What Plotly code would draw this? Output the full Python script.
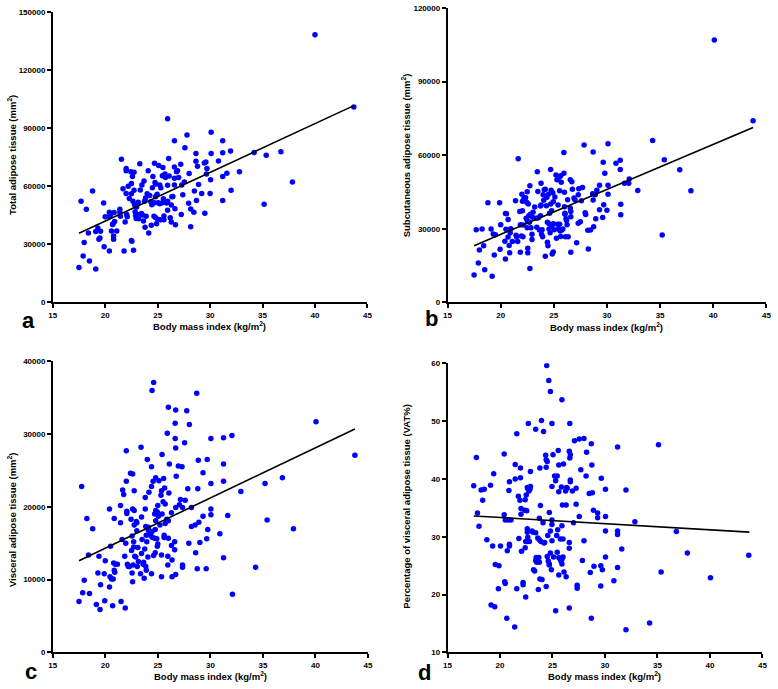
import plotly.graph_objects as go

# ---------------- data ----------------
bmi_a = [17.5,17.7,17.9,18.0,18.2,18.4,18.5,18.8,19.1,19.3,
         19.4,19.5,19.55,19.1,19.85,19.9,20.0,20.4,20.4,20.4,
         20.5,20.6,20.7,20.75,20.8,20.8,20.85,20.9,21.1,21.4,
         21.4,21.45,21.55,21.7,21.8,21.9,22.0,22.0,22.0,22.05,
         22.1,22.2,22.3,22.45,22.5,22.5,22.5,22.55,22.6,22.7,
         22.75,22.75,22.65,22.8,22.85,22.9,22.95,23.0,23.05,23.15,
         23.2,23.3,23.35,23.5,23.45,23.55,23.65,23.7,23.8,23.75,
         23.85,23.9,24.0,24.1,24.15,24.25,24.35,24.45,24.4,24.5,
         24.55,24.65,24.7,24.7,24.75,24.8,24.8,24.8,24.9,24.95,
         25.0,25.05,25.1,25.2,25.2,25.3,25.3,25.45,25.45,25.5,
         25.55,25.6,25.6,25.7,25.75,25.85,25.95,25.95,25.95,25.95,
         26.05,26.1,26.2,26.3,26.3,26.35,26.45,26.6,26.6,26.6,
         26.6,26.65,26.7,26.8,26.9,27.0,27.2,27.25,27.3,27.4,
         27.55,27.6,27.8,27.95,28.0,28.15,28.15,28.45,28.5,28.65,
         28.65,28.7,28.8,28.9,29.2,29.45,29.5,29.6,29.65,29.7,
         30.0,30.05,30.1,30.1,30.8,31.2,31.2,31.2,31.2,31.6,
         31.95,32.0,32.8,34.2,35.15,35.35,36.75,37.85,40.0,43.7]
tat = [18000,52200,24000,31000,48100,35900,21400,57500,36600,38400,
       32600,33300,36700,17200,51300,28700,44200,26500,46600,44400,
       45200,36900,40300,40600,34300,32600,46400,41800,36900,48100,
       46600,44500,74000,58700,26500,41500,69200,68000,56300,45400,
       44200,60000,53700,67500,56100,61400,32000,31600,65100,26900,
       67200,58000,52200,50500,46900,44900,43300,49300,45400,51700,
       43200,71700,58100,60700,45900,45200,42000,62700,38800,52200,
       53900,44500,56100,68000,35900,55300,52000,50500,39800,59300,
       65100,44500,71900,51500,61900,61200,54600,43900,40600,55900,
       43000,51500,70700,51000,60700,42700,59200,65500,51500,69700,
       53600,42700,44700,66300,64600,51300,94900,47600,52200,60500,
       74300,65300,43700,50300,41500,54600,54700,83600,70000,64100,
       60700,48400,40100,67500,68000,64600,71400,45400,60700,55600,
       62200,79900,86500,51200,66600,48300,39100,46600,57600,77000,
       72900,52700,70400,60900,56300,72100,46100,72600,66300,69200,
       56300,63400,87900,77000,73100,83600,77400,65100,52700,66800,
       78200,58000,67500,77500,50700,76000,77900,62200,138400,101000]

bmi_b = [17.5,17.7,17.9,18.0,18.25,18.4,18.5,18.8,19.1,19.2,
         19.3,19.4,19.5,19.9,19.95,20.0,20.4,20.45,20.45,20.5,
         20.55,20.7,20.7,20.8,20.8,20.85,20.9,20.95,21.1,21.4,
         21.45,21.5,21.6,21.65,21.8,21.85,21.85,21.95,22.0,22.05,
         22.05,22.1,22.1,22.2,22.35,22.45,22.4,22.5,22.5,22.5,
         22.55,22.55,22.6,22.65,22.7,22.75,22.75,22.8,22.85,22.95,
         22.95,23.0,23.05,23.2,23.35,23.4,23.45,23.5,23.55,23.65,
         23.75,23.75,23.8,23.8,23.85,23.9,23.95,24.0,24.05,24.1,
         24.2,24.2,24.3,24.35,24.4,24.4,24.45,24.5,24.55,24.55,
         24.6,24.65,24.7,24.7,24.75,24.8,24.8,24.85,24.9,24.95,
         24.95,24.95,25.05,25.1,25.2,25.25,25.3,25.35,25.4,25.45,
         25.5,25.55,25.55,25.6,25.65,25.65,25.7,25.75,25.85,25.95,
         25.95,26.0,26.0,26.05,26.05,26.1,26.15,26.2,26.25,26.3,
         26.35,26.55,26.55,26.6,26.6,26.6,26.7,26.75,26.9,27.0,
         27.15,27.3,27.3,27.35,27.5,27.6,27.7,27.85,27.95,28.0,
         28.2,28.25,28.45,28.65,28.7,28.7,28.75,28.9,28.95,29.05,
         29.3,29.3,29.6,29.65,29.7,29.8,30.0,30.1,30.1,30.1,
         30.85,31.25,31.25,31.3,31.3,31.65,32.05,32.1,32.9,34.3,
         35.2,35.4,36.85,37.9,40.1,43.75]
sat = [11100,29600,16000,21300,29900,23100,13300,40600,29900,10600,
       27900,19300,27600,40600,21600,31600,24900,36200,17700,29800,
       36100,33800,26600,29500,23200,20200,28400,30000,24800,41400,
       27400,26600,24800,58500,37000,20400,31600,27000,44100,41200,
       37300,26700,31500,42500,42600,40800,34300,33300,30400,45100,
       22100,20200,40100,35300,32600,47500,13800,35900,30400,25600,
       27800,34700,36700,38900,34300,30600,53200,45200,34500,29500,
       35300,39300,48500,39700,27800,29600,26700,43900,41600,45900,
       46100,18800,39400,42800,32700,24500,23100,44100,29900,32000,
       36300,28400,40100,54200,45700,37300,31000,19700,44700,41000,
       32000,20500,29600,42900,51900,26100,50000,31800,39700,29900,
       51000,45500,31800,29100,51600,26800,49000,29500,29900,61100,
       52600,44900,39000,36300,35900,26700,34100,33400,31600,41800,
       26700,50000,38500,37000,34900,20400,49200,46100,42500,41700,
       24300,43900,32200,46300,32900,41400,46800,64100,36500,35800,
       29400,21700,29500,44300,41700,61300,30800,43900,34100,45700,
       47700,37700,34600,57100,39800,52600,37500,64600,44100,47700,
       56700,54200,57900,40000,35700,48500,48500,50300,45600,66000,
       27500,58100,54000,45500,106900,74000]

bmi_c = [17.5,17.75,17.85,18.0,18.25,18.4,18.5,18.8,19.15,19.3,
         19.4,19.5,19.55,19.9,19.95,20.0,20.4,20.4,20.45,20.5,
         20.6,20.7,20.75,20.8,20.85,20.85,20.9,20.95,21.15,21.45,
         21.45,21.5,21.6,21.65,21.75,21.85,21.9,21.95,22.0,22.0,
         22.05,22.05,22.1,22.2,22.3,22.4,22.45,22.5,22.55,22.55,
         22.6,22.6,22.6,22.65,22.7,22.7,22.75,22.75,22.75,22.8,
         22.9,22.95,23.0,23.0,23.05,23.1,23.15,23.35,23.4,23.45,
         23.45,23.5,23.6,23.65,23.7,23.75,23.8,23.8,23.85,23.85,
         23.9,23.9,23.95,24.0,24.05,24.1,24.1,24.15,24.3,24.35,
         24.4,24.4,24.4,24.45,24.45,24.5,24.55,24.6,24.6,24.7,
         24.7,24.75,24.75,24.8,24.8,24.8,24.9,24.95,24.95,25.0,
         25.0,25.05,25.1,25.2,25.3,25.35,25.35,25.35,25.4,25.4,
         25.5,25.55,25.6,25.6,25.65,25.7,25.7,25.85,25.9,25.95,
         25.95,26.0,26.0,26.0,26.05,26.1,26.3,26.3,26.35,26.35,
         26.6,26.6,26.65,26.65,26.7,26.7,26.7,26.7,26.75,26.95,
         27.05,27.15,27.3,27.35,27.35,27.35,27.55,27.6,27.75,27.85,
         27.95,28.0,28.2,28.2,28.55,28.6,28.7,28.75,28.8,28.85,
         28.9,29.0,29.3,29.3,29.6,29.65,29.75,29.7,30.05,30.05,
         30.05,30.05,30.9,31.25,31.25,31.25,31.25,31.65,32.05,32.1,
         32.9,34.3,35.2,35.4,36.85,37.9,40.05,43.75]
vat = [7000,22800,8200,9900,18400,13400,8100,17000,6600,10900,
       13200,5900,9300,10800,7100,12600,19700,9000,10400,14600,
       10100,6400,10100,12300,11300,18400,11000,12100,12100,20200,
       17800,7000,15500,22300,21700,13200,6100,15000,27700,23500,
       19400,19100,12100,11800,11800,24600,18300,14000,16000,10900,
       24500,19700,9700,12000,15200,14500,22200,19500,17500,13200,
       13100,18000,16700,17800,11800,14400,12500,10800,28200,18600,
       13600,15500,12100,12400,10200,14200,21300,19700,17300,11800,
       11300,16100,15200,26500,13100,16800,17200,22000,16500,16000,
       25500,22800,10800,36000,16600,15800,23500,37100,13300,15700,
       19000,13700,16900,18100,19500,24000,15600,19300,14600,14900,
       20200,18700,23600,17500,21600,13400,10400,22200,27200,19000,
       20700,23900,16100,15800,22600,20400,17700,18300,30100,13200,
       12000,33700,18100,15700,21900,25900,19200,14700,10400,12700,
       15200,14100,29400,31500,33300,28100,10700,19900,24200,25600,
       20300,21000,25500,19900,12000,11700,28800,20900,33200,22500,
       15000,31300,19900,17300,17500,13700,35600,11500,22500,26400,
       17900,15100,18700,24700,11500,15600,16900,26500,29400,23200,
       19700,18900,16300,29500,25900,23500,13000,18800,29800,8000,
       22100,11700,23200,18200,24000,17000,31700,27100]

bmi_d = [17.5,17.75,17.85,18.0,18.2,18.35,18.5,18.75,19.1,19.15,
         19.3,19.4,19.5,19.55,19.85,19.9,20.05,20.4,20.4,20.45,
         20.5,20.5,20.65,20.7,20.8,20.85,20.9,20.9,20.9,21.05,
         21.4,21.45,21.45,21.6,21.6,21.75,21.8,21.9,21.95,21.95,
         22.0,22.0,22.05,22.2,22.2,22.35,22.4,22.4,22.45,22.45,
         22.5,22.55,22.6,22.6,22.6,22.6,22.65,22.65,22.7,22.75,
         22.8,22.85,22.9,22.9,23.05,23.15,23.2,23.3,23.4,23.4,
         23.4,23.45,23.5,23.6,23.65,23.7,23.75,23.75,23.75,23.8,
         23.8,23.85,23.9,23.95,24.0,24.1,24.15,24.2,24.25,24.35,
         24.4,24.4,24.4,24.45,24.5,24.5,24.55,24.6,24.65,24.7,
         24.7,24.7,24.8,24.8,24.8,24.9,24.95,24.95,24.95,24.95,
         24.95,25.05,25.1,25.2,25.3,25.3,25.4,25.45,25.45,25.5,
         25.55,25.6,25.6,25.6,25.6,25.7,25.75,25.8,25.85,25.9,
         25.9,25.9,25.9,25.95,26.0,26.0,26.05,26.1,26.25,26.3,
         26.3,26.35,26.4,26.6,26.6,26.6,26.6,26.65,26.65,26.7,
         26.7,26.7,26.9,27.0,27.1,27.25,27.25,27.35,27.35,27.55,
         27.55,27.7,27.85,28.0,28.0,28.2,28.25,28.5,28.6,28.7,
         28.7,28.75,28.8,28.9,28.95,29.3,29.3,29.6,29.6,29.65,
         29.75,30.05,30.05,30.05,30.05,30.85,31.2,31.2,31.2,31.2,
         31.6,32.0,32.0,32.85,34.25,35.1,35.35,36.8,37.85,40.05,
         43.7]
vat_pct = [38.8,43.7,34.1,31.8,38.1,36.3,38.2,29.5,38.9,18.2,
           28.4,40.9,17.9,25.2,21.0,25.0,28.4,44.3,33.8,22.2,
           21.9,32.9,15.9,27.6,32.9,38.0,39.5,28.4,28.7,32.9,
           14.4,42.5,40.0,21.0,47.8,37.0,29.7,36.3,41.9,40.2,
           34.9,33.9,27.5,22.1,21.7,34.6,36.4,28.1,29.2,19.6,
           37.2,34.5,31.4,30.8,38.5,29.2,29.9,38.3,49.6,37.9,
           29.2,38.2,41.3,38.7,31.0,30.8,24.3,24.1,48.6,30.7,
           25.9,26.4,25.6,29.8,20.9,26.4,25.6,33.2,29.5,22.7,
           41.9,35.4,29.2,50.1,22.6,32.4,48.2,28.9,29.0,44.1,
           42.0,43.3,21.4,59.6,43.0,26.6,30.2,25.8,57.0,25.3,
           25.1,34.2,31.0,27.2,55.1,24.3,49.6,29.3,32.9,32.1,
           38.7,44.2,26.5,40.5,39.7,17.2,30.2,40.5,27.3,31.2,
           44.9,37.8,42.4,23.4,26.4,26.2,29.6,25.8,38.6,31.9,
           25.3,26.1,53.7,35.5,26.5,29.6,42.6,23.9,37.9,35.5,
           23.1,38.5,38.4,28.0,29.0,44.8,17.7,43.6,49.6,39.8,
           39.5,44.2,37.9,32.4,46.6,38.4,35.6,21.6,21.1,46.9,
           33.5,41.6,25.9,47.0,29.3,40.5,44.6,37.5,23.8,46.1,
           15.9,42.4,37.6,34.6,24.9,34.1,33.3,25.0,21.5,40.1,
           24.3,33.5,38.2,31.0,26.5,22.4,45.5,31.0,30.4,24.7,
           27.9,38.1,13.9,32.6,15.1,45.9,23.9,30.9,27.2,22.9,
           26.8]

# regression line end points
fit_x_a = [17.5, 43.7];  fit_a = [35700, 101700]
fit_x_b = [17.5, 43.75]; fit_b = [23100, 71300]
fit_x_c = [17.5, 43.75]; fit_c = [12600, 30700]
fit_x_d = [17.5, 43.75]; fit_d = [33.6, 30.8]

assert len(bmi_a) == len(tat)
assert len(bmi_b) == len(sat)
assert len(bmi_c) == len(vat)
assert len(bmi_d) == len(vat_pct)

x_title = "Body mass index (kg/m<sup>2</sup>)"
y_titles = ["Total adipose tissue (mm<sup>2</sup>)",
            "Subcutaneous adipose tissue (mm<sup>2</sup>)",
            "Visceral adipose tissue (mm<sup>2</sup>)",
            "Percentage of visceral adipose tissue (VAT%)"]
panel_letters = ["a", "b", "c", "d"]
x_ticks = [15, 20, 25, 30, 35, 40, 45]

# ---------------- figure ----------------
W, H = 778, 689
FONT = "Liberation Sans, Arial, sans-serif"

fig = go.Figure()
panels = [(bmi_a, tat, fit_x_a, fit_a, "x", "y"),
          (bmi_b, sat, fit_x_b, fit_b, "x2", "y2"),
          (bmi_c, vat, fit_x_c, fit_c, "x3", "y3"),
          (bmi_d, vat_pct, fit_x_d, fit_d, "x4", "y4")]
for xs, ys, fx, fy, xa, ya in panels:
    fig.add_trace(go.Scatter(x=xs, y=ys, mode="markers", xaxis=xa, yaxis=ya,
                             marker=dict(color="#0000FF", size=5.5, line=dict(width=0)),
                             showlegend=False))
    fig.add_trace(go.Scatter(x=fx, y=fy, mode="lines", xaxis=xa, yaxis=ya,
                             line=dict(color="black", width=1.6), showlegend=False))

def px_x(p):
    return p / W

def px_y(p):
    return 1 - p / H

axis_common = dict(showgrid=False, zeroline=False, showline=True, linecolor="black",
                   linewidth=1.5, ticks="outside", ticklen=4, tickwidth=1.5,
                   tickcolor="black",
                   tickfont=dict(family=FONT, size=8, color="black", weight="bold"))

# pixel boxes: (left, right, top, bottom)
boxes = [(49.3, 367.7, 8.3, 302.3),
         (448.7, 771.3, 4.0, 302.3),
         (49.3, 368.3, 362.0, 657.0),
         (448.7, 767.3, 364.0, 657.0)]
y_ranges = [[0, 150000], [0, 120000], [0, 40000], [10, 60]]
y_dticks = [30000, 30000, 10000, 10]

layout = dict(width=W, height=H, margin=dict(l=0, r=0, t=0, b=0),
              paper_bgcolor="white", plot_bgcolor="white", annotations=[])
for i, (l, r, t, b) in enumerate(boxes):
    sx = "" if i == 0 else str(i + 1)
    layout["xaxis" + sx] = dict(axis_common, domain=[px_x(l), px_x(r)], range=[15, 45],
                                tickvals=x_ticks, anchor="y" + sx)
    layout["yaxis" + sx] = dict(axis_common, domain=[px_y(b), px_y(t)], range=y_ranges[i],
                                dtick=y_dticks[i], tick0=y_ranges[i][0], tickformat="d",
                                anchor="x" + sx)

title_font = dict(family=FONT, size=9.5, color="black")
x_title_pos = [(208, 326), (610, 327.5), (209, 681), (608, 681)]
y_title_pos = [(8, 153), (407, 153), (8, 523), (407, 509)]
letter_pos = [(25, 321), (432, 319), (27, 676), (425, 677)]
for i in range(4):
    layout["annotations"].append(dict(text="<b>" + x_title + "</b>", xref="paper", yref="paper",
                                      x=px_x(x_title_pos[i][0]), y=px_y(x_title_pos[i][1]),
                                      xanchor="center", yanchor="middle", showarrow=False,
                                      font=title_font))
    layout["annotations"].append(dict(text="<b>" + y_titles[i] + "</b>", xref="paper", yref="paper",
                                      x=px_x(y_title_pos[i][0]), y=px_y(y_title_pos[i][1]),
                                      xanchor="center", yanchor="middle", showarrow=False,
                                      textangle=-90, font=title_font))
    layout["annotations"].append(dict(text="<b>" + panel_letters[i] + "</b>", xref="paper", yref="paper",
                                      x=px_x(letter_pos[i][0]), y=px_y(letter_pos[i][1]),
                                      xanchor="center", yanchor="middle", showarrow=False,
                                      font=dict(family=FONT, size=22, color="black")))

fig.update_layout(**layout)
fig.write_html("out.html", config={"displayModeBar": False},
               post_script="document.body.style.margin='0';document.body.style.overflow='hidden';")
